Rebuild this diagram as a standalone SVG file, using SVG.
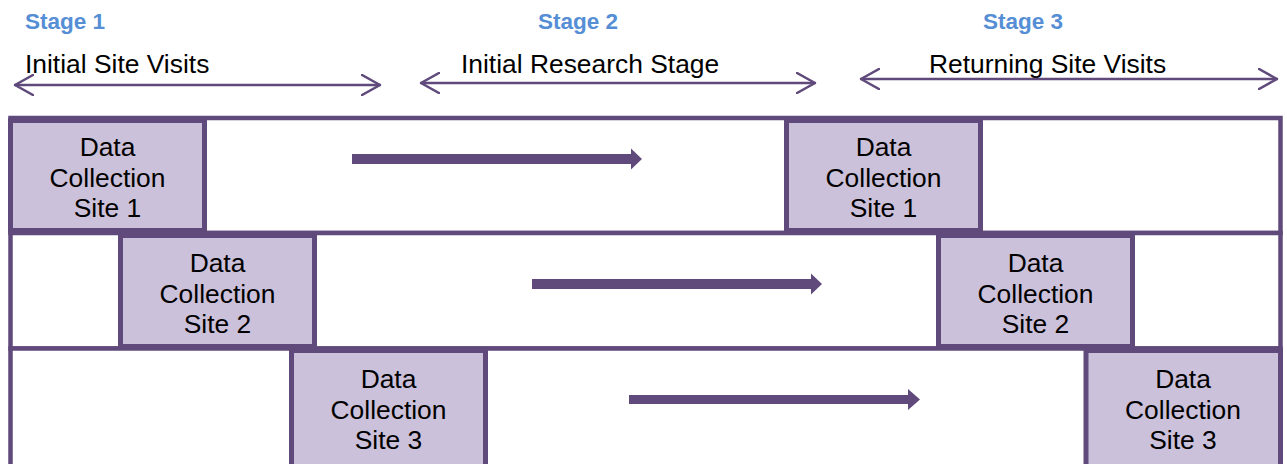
<svg xmlns="http://www.w3.org/2000/svg" width="1287" height="464" viewBox="0 0 1287 464">
  <style>
    .stage { font-family: "Liberation Sans", Arial, sans-serif; font-size: 22.5px; font-weight: bold; fill: #558ED5; }
    .span-label { font-family: "Liberation Sans", Arial, sans-serif; font-size: 26.4px; fill: #000000; }
    .lane { fill: #FFFFFF; stroke: #604A7B; stroke-width: 4.5; }
    .box { fill: #CCC1DA; stroke: #604A7B; stroke-width: 5; }
    .box-text { font-family: "Liberation Sans", Arial, sans-serif; font-size: 26.4px; fill: #000000; text-anchor: middle; }
    .span { fill: none; stroke: #604A7B; stroke-width: 2.5; stroke-linecap: round; stroke-linejoin: round; }
    .flow { fill: #604A7B; }
  </style>
  <defs>
    <marker id="open-head" viewBox="0 0 20 22" refX="19" refY="11" markerWidth="20" markerHeight="22" markerUnits="userSpaceOnUse" orient="auto-start-reverse">
      <path d="M1,1 L19,11 L1,21" fill="none" stroke="#604A7B" stroke-width="2.5" stroke-linecap="round" stroke-linejoin="round"/>
    </marker>
  </defs>

  <rect width="1287" height="464" fill="#FFFFFF"/>

  <!-- stage headings -->
  <g id="headings">
    <text class="stage" x="25" y="29">Stage 1</text>
    <text class="stage" x="538" y="29">Stage 2</text>
    <text class="stage" x="983" y="29">Stage 3</text>
    <text class="span-label" x="25" y="73">Initial Site Visits</text>
    <text class="span-label" x="461" y="73">Initial Research Stage</text>
    <text class="span-label" x="929" y="73">Returning Site Visits</text>
  </g>

  <!-- lanes, one per site -->
  <g id="lanes">
    <rect class="lane" x="10.5" y="118" width="1270" height="115"/>
    <rect class="lane" x="10.5" y="233" width="1270" height="115.5"/>
    <rect class="lane" x="10.5" y="348.5" width="1270" height="130"/>
  </g>

  <g id="connectors">
    <!-- stage spans -->
    <line class="span" x1="15" y1="85" x2="380" y2="85" marker-start="url(#open-head)" marker-end="url(#open-head)"/>
    <line class="span" x1="421" y1="83" x2="815" y2="83" marker-start="url(#open-head)" marker-end="url(#open-head)"/>
    <line class="span" x1="861" y1="79" x2="1277" y2="79" marker-start="url(#open-head)" marker-end="url(#open-head)"/>
    <!-- block arrows between visits -->
    <path class="flow" d="M352,154 H631 V148.5 L642,159 L631,169.5 V164 H352 Z"/>
    <path class="flow" d="M532,279 H811 V273.5 L822,284 L811,294.5 V289 H532 Z"/>
    <path class="flow" d="M629,395 H908 V389 L920,399.5 L908,410 V404 H629 Z"/>
  </g>

  <g id="site1-initial">
    <rect class="box" x="10.5" y="120.5" width="194" height="110"/>
    <text class="box-text" x="107.5" y="156">Data</text>
    <text class="box-text" x="107.5" y="186.5">Collection</text>
    <text class="box-text" x="107.5" y="217">Site 1</text>
  </g>
  <g id="site1-return">
    <rect class="box" x="786.5" y="120.5" width="194" height="110"/>
    <text class="box-text" x="883.5" y="156">Data</text>
    <text class="box-text" x="883.5" y="186.5">Collection</text>
    <text class="box-text" x="883.5" y="217">Site 1</text>
  </g>
  <g id="site2-initial">
    <rect class="box" x="120.5" y="235.5" width="194" height="111"/>
    <text class="box-text" x="217.5" y="272">Data</text>
    <text class="box-text" x="217.5" y="302.5">Collection</text>
    <text class="box-text" x="217.5" y="333">Site 2</text>
  </g>
  <g id="site2-return">
    <rect class="box" x="938.5" y="235.5" width="194" height="111"/>
    <text class="box-text" x="1035.5" y="272">Data</text>
    <text class="box-text" x="1035.5" y="302.5">Collection</text>
    <text class="box-text" x="1035.5" y="333">Site 2</text>
  </g>
  <g id="site3-initial">
    <rect class="box" x="291.5" y="350.5" width="194" height="130"/>
    <text class="box-text" x="388.5" y="388">Data</text>
    <text class="box-text" x="388.5" y="418.5">Collection</text>
    <text class="box-text" x="388.5" y="449">Site 3</text>
  </g>
  <g id="site3-return">
    <rect class="box" x="1086" y="350.5" width="194.5" height="130"/>
    <text class="box-text" x="1183" y="388">Data</text>
    <text class="box-text" x="1183" y="418.5">Collection</text>
    <text class="box-text" x="1183" y="449">Site 3</text>
  </g>
</svg>
